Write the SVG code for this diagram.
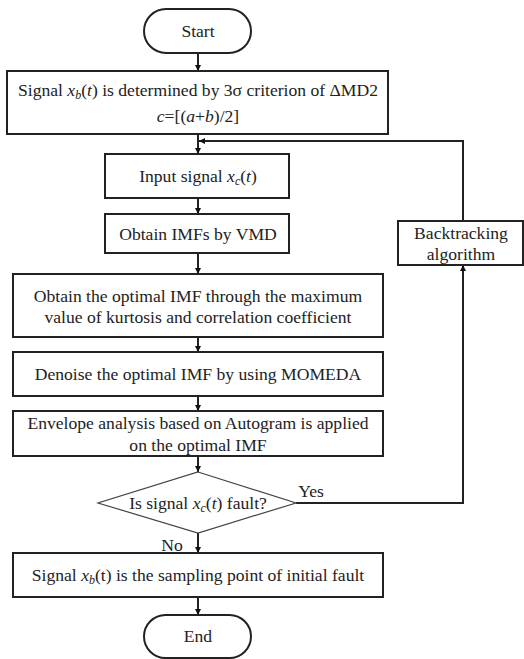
<svg xmlns="http://www.w3.org/2000/svg" width="524" height="659" viewBox="0 0 524 659">
<defs>
<marker id="ah" viewBox="0 0 10 10" refX="10" refY="5" markerWidth="6" markerHeight="7" markerUnits="userSpaceOnUse" orient="auto">
<path d="M0,0 L10,5 L0,10 z" fill="#111"/>
</marker>
</defs>
<style>
.box{fill:#fff;stroke:#222;stroke-width:2}
.dia{fill:#fff;stroke:#444;stroke-width:1.2}
.t{font-family:"Liberation Serif","Times New Roman",serif;font-size:17.6px;fill:#222;text-anchor:middle}
.l{fill:none;stroke:#222;stroke-width:2}
.s{font-style:italic;font-size:12px}
</style>
<rect width="524" height="659" fill="#fff"/>
<g id="connectors">
<line class="l" x1="198" y1="53" x2="198" y2="71" marker-end="url(#ah)"/>
<line class="l" x1="198" y1="134" x2="198" y2="154" marker-end="url(#ah)"/>
<line class="l" x1="198" y1="198" x2="198" y2="214" marker-end="url(#ah)"/>
<line class="l" x1="198" y1="253" x2="198" y2="274" marker-end="url(#ah)"/>
<line class="l" x1="198" y1="337" x2="198" y2="352" marker-end="url(#ah)"/>
<line class="l" x1="198" y1="396" x2="198" y2="411" marker-end="url(#ah)"/>
<line class="l" x1="198" y1="456" x2="198" y2="472" marker-end="url(#ah)"/>
<line class="l" x1="198" y1="533" x2="198" y2="553" marker-end="url(#ah)"/>
<line class="l" x1="198" y1="597" x2="198" y2="615" marker-end="url(#ah)"/>
<polyline class="l" points="296,503 463,503 463,265" marker-end="url(#ah)"/>
<polyline class="l" points="463,221 463,141 199,141" marker-end="url(#ah)"/>
<text class="t" x="311" y="497">Yes</text>
<text class="t" x="172" y="551">No</text>
</g>
<g id="start">
<rect class="box" x="144" y="9" width="107" height="44" rx="22"/>
<text class="t" x="198" y="37">Start</text>
</g>
<g id="determine">
<rect class="box" x="7" y="71" width="381" height="63"/>
<text class="t" x="198" y="96">Signal <tspan font-style="italic">x</tspan><tspan class="s" dy="3">b</tspan><tspan dy="-3">(</tspan><tspan font-style="italic">t</tspan>) is determined by 3σ criterion of  ΔMD2</text>
<text class="t" x="198" y="122"><tspan font-style="italic">c</tspan>=[(<tspan font-style="italic">a</tspan>+<tspan font-style="italic">b</tspan>)/2]</text>
</g>
<g id="input">
<rect class="box" x="105" y="154" width="184" height="44"/>
<text class="t" x="198" y="182">Input signal <tspan font-style="italic">x</tspan><tspan class="s" dy="3">c</tspan><tspan dy="-3">(</tspan><tspan font-style="italic">t</tspan>)</text>
</g>
<g id="vmd">
<rect class="box" x="105" y="214" width="184" height="39"/>
<text class="t" x="198" y="240">Obtain IMFs by VMD</text>
</g>
<g id="optimal">
<rect class="box" x="13" y="274" width="370" height="63"/>
<text class="t" x="198" y="302">Obtain the optimal IMF through the maximum</text>
<text class="t" x="198" y="323">value of kurtosis and correlation coefficient</text>
</g>
<g id="denoise">
<rect class="box" x="13" y="352" width="370" height="44"/>
<text class="t" x="198" y="380">Denoise the optimal IMF by using MOMEDA</text>
</g>
<g id="envelope">
<rect class="box" x="13" y="411" width="370" height="45"/>
<text class="t" x="198" y="429">Envelope analysis based on Autogram is applied</text>
<text class="t" x="198" y="451">on the optimal IMF</text>
</g>
<g id="decision">
<polygon class="dia" points="198,472 296,503 198,533 98,503"/>
<text class="t" x="198" y="509">Is signal <tspan font-style="italic">x</tspan><tspan class="s" dy="3">c</tspan><tspan dy="-3">(</tspan><tspan font-style="italic">t</tspan>) fault?</text>
</g>
<g id="backtracking">
<rect class="box" x="398" y="221" width="125" height="44"/>
<text class="t" x="461" y="239">Backtracking</text>
<text class="t" x="461" y="260">algorithm</text>
</g>
<g id="result">
<rect class="box" x="13" y="553" width="370" height="44"/>
<text class="t" x="198" y="581">Signal <tspan font-style="italic">x</tspan><tspan class="s" dy="3">b</tspan><tspan dy="-3">(t) is the sampling point of initial fault</tspan></text>
</g>
<g id="end">
<rect class="box" x="144" y="615" width="107" height="43" rx="21.5"/>
<text class="t" x="198" y="642">End</text>
</g>
</svg>
